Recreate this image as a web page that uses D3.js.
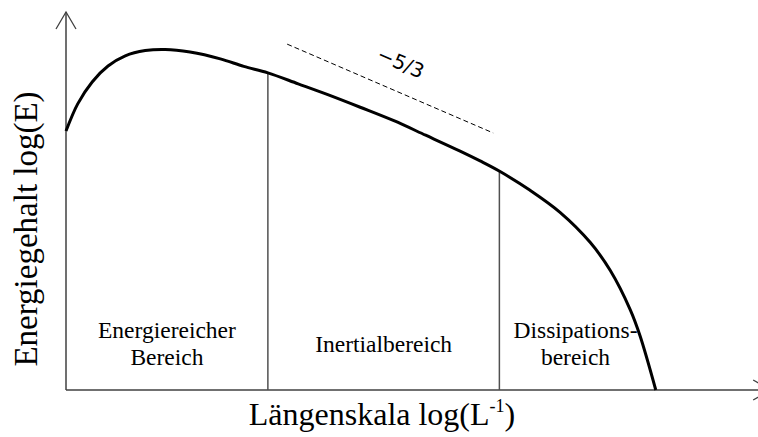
<!DOCTYPE html>
<html>
<head>
<meta charset="utf-8">
<script src="https://cdn.jsdelivr.net/npm/d3@7"></script>
<style>
    body { margin: 0; background: #fff; }
    text { font-family: "Liberation Serif", "Times New Roman", serif; fill: #000; }
</style>
</head>
<body>
<div id="chart"></div>
<script>
"use strict"

// energy spectrum (arbitrary log units 0..10)
let spectrumX = [0.00, 0.17, 0.38, 0.61, 0.86, 1.15, 1.44, 1.80, 2.24, 2.58, 2.93, 3.37,
    3.79, 4.27, 4.75, 5.22, 5.72, 6.01, 6.30, 6.73, 7.17, 7.61, 7.90, 8.19, 8.33, 8.56];
let spectrumY = [6.85, 7.57, 8.15, 8.57, 8.84, 8.98, 9.01, 8.94, 8.76, 8.56, 8.39, 8.10,
    7.82, 7.48, 7.13, 6.74, 6.32, 6.06, 5.78, 5.29, 4.70, 3.90, 3.16, 2.12, 1.44, 0.00];

// boundaries between the ranges
let regionBounds = [0, 2.93, 6.29, 8.50];
let regionLabels = [["Energiereicher", "Bereich"], ["Inertialbereich"], ["Dissipations-", "bereich"]];

// -5/3 reference slope
let slopeX = [3.21, 6.20];
let slopeY = [9.15, 6.80];
let slopeLabel = "\u22125/3";

let xTitle = "Längenskala log(L";
let yTitle = "Energiegehalt log(E)";

let width = 758, height = 437;

let svg = d3.select("#chart").append("svg")
    .attr("width", width)
    .attr("height", height);

let x = d3.scaleLinear().domain([0, 10]).range([66, 755]);
let y = d3.scaleLinear().domain([0, 10]).range([390, 12]);

let axisColor = "#404040";

// axes with open arrow heads
svg.append("line")
    .attr("x1", x(0)).attr("y1", y(0))
    .attr("x2", x(0)).attr("y2", y(10))
    .style("stroke", axisColor)
    .style("stroke-width", 1.5);

svg.append("path")
    .attr("d", "M " + (x(0) - 10) + " " + (y(10) + 17) + " L " + x(0) + " " + y(10) + " L " + (x(0) + 10) + " " + (y(10) + 17))
    .style("fill", "none")
    .style("stroke", axisColor)
    .style("stroke-width", 1.3);

let xEnd = x(10.22);
svg.append("line")
    .attr("x1", x(0)).attr("y1", y(0))
    .attr("x2", xEnd).attr("y2", y(0))
    .style("stroke", axisColor)
    .style("stroke-width", 1.5);

svg.append("path")
    .attr("d", "M " + (xEnd - 17) + " " + (y(0) - 10) + " L " + xEnd + " " + y(0) + " L " + (xEnd - 17) + " " + (y(0) + 10))
    .style("fill", "none")
    .style("stroke", axisColor)
    .style("stroke-width", 1.3);

let points = spectrumX.map((d, i) => [d, spectrumY[i]]);
let line = d3.line()
    .x(d => x(d[0]))
    .y(d => y(d[1]))
    .curve(d3.curveCatmullRom.alpha(0.5));

// height of the spectrum at v, for the separators
let curveAt = function(v) {
    let i = d3.bisector(d => d).left(spectrumX, v);
    if (spectrumX[i] === v) return spectrumY[i];
    let t = (v - spectrumX[i - 1]) / (spectrumX[i] - spectrumX[i - 1]);
    return spectrumY[i - 1] + t * (spectrumY[i] - spectrumY[i - 1]);
};

for (let b of regionBounds.slice(1, 3)) {
    svg.append("line")
        .attr("x1", x(b)).attr("y1", y(0))
        .attr("x2", x(b)).attr("y2", y(curveAt(b)))
        .style("stroke", "#505050")
        .style("stroke-width", 1.5);
}

svg.append("path")
    .datum(points)
    .attr("d", line)
    .style("fill", "none")
    .style("stroke", "#000")
    .style("stroke-width", 3);

// dashed slope line and its label
svg.append("line")
    .attr("x1", x(slopeX[0])).attr("y1", y(slopeY[0]))
    .attr("x2", x(slopeX[1])).attr("y2", y(slopeY[1]))
    .style("stroke", "#000")
    .style("stroke-width", 1)
    .style("stroke-dasharray", "5,3");

let angle = Math.atan2(y(slopeY[1]) - y(slopeY[0]), x(slopeX[1]) - x(slopeX[0])) * 180 / Math.PI;
let lx = x(4.86), ly = y(8.66);
svg.append("text")
    .attr("transform", "translate(" + lx + "," + ly + ") rotate(" + angle + ")")
    .attr("text-anchor", "middle")
    .attr("dy", "0.35em")
    .style("font-family", "'DejaVu Sans', sans-serif")
    .style("font-size", "20px")
    .text(slopeLabel);

// range labels
regionLabels.forEach(function(lines, i) {
    let cx = x((regionBounds[i] + regionBounds[i + 1]) / 2);
    let baseY = lines.length === 1 ? 352 : 338;
    lines.forEach(function(t, j) {
        svg.append("text")
            .attr("x", cx)
            .attr("y", baseY + j * 27)
            .attr("text-anchor", "middle")
            .style("font-family", "'Liberation Serif', serif")
            .style("font-size", "23.5px")
            .text(t);
    });
});

// axis titles
let xt = svg.append("text")
    .attr("x", 382)
    .attr("y", 425)
    .attr("text-anchor", "middle")
    .style("font-size", "32px");
xt.append("tspan").text(xTitle);
xt.append("tspan").attr("dy", -13).style("font-size", "18px").text("-1");
xt.append("tspan").attr("dy", 13).text(")");

svg.append("text")
    .attr("transform", "translate(37,229) rotate(-90)")
    .attr("text-anchor", "middle")
    .style("font-size", "33px")
    .text(yTitle);
</script>
</body>
</html>
